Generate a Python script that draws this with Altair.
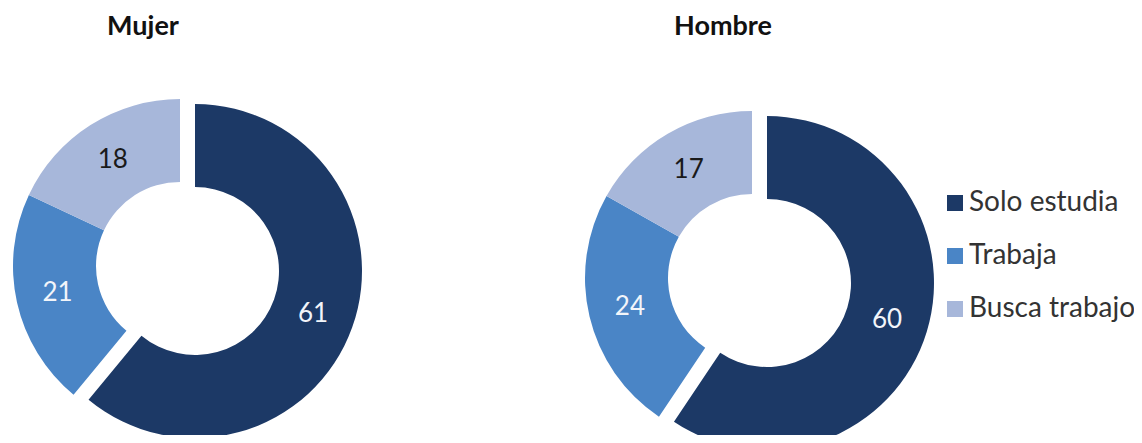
import math
import altair as alt
import pandas as pd

# ---- data ----
sexos = ["Mujer", "Hombre"]
categorias = ["Solo estudia", "Trabaja", "Busca trabajo"]
valores_mujer = [61, 21, 18]
valores_hombre = [60, 24, 17]

colores = ["#1c3966", "#4a85c6", "#a7b7da"]

rows = []
for s, vals in zip(sexos, [valores_mujer, valores_hombre]):
    for i, (c, v) in enumerate(zip(categorias, vals)):
        rows.append({"sexo": s, "categoria": c, "valor": v, "orden": i})
df = pd.DataFrame(rows)
df_titulos = pd.DataFrame({"sexo": sexos})

FONT = "Lato"
R_OUT, R_IN = 167, 84
EXPL_DX, EXPL_DY = 15, 5
TOP = 16  # top padding of the svg

theta_scale = alt.Scale(domain=[0, 1], range=[0, 2 * math.pi])
x_enc = alt.X("sexo:N", scale=alt.Scale(type="point", domain=sexos, range=[172, 744], padding=0), axis=None)
y_enc = alt.Y("sexo:N", scale=alt.Scale(type="point", domain=sexos, range=[258 - TOP, 270 - TOP], padding=0), axis=None)
color_enc = alt.Color(
    "categoria:N",
    scale=alt.Scale(domain=categorias, range=colores),
    legend=alt.Legend(
        title=None,
        orient="none",
        legendX=933,
        legendY=181 - TOP,
        symbolType="square",
        symbolSize=256,
        symbolStrokeWidth=0,
        labelFont=FONT,
        labelFontSize=28,
        labelColor="#333333",
        labelOffset=0,
        labelLimit=400,
        rowPadding=25,
        padding=0,
    ),
)

base = (
    alt.Chart(df)
    .transform_joinaggregate(total="sum(valor)", groupby=["sexo"])
    .transform_window(acum="sum(valor)", sort=[alt.SortField("orden")], groupby=["sexo"], frame=[None, 0])
    .transform_calculate(
        t1="datum.acum / datum.total",
        t0="(datum.acum - datum.valor) / datum.total",
        tm="(datum.acum - datum.valor / 2) / datum.total",
    )
)

arc_enc = dict(
    x=x_enc,
    y=y_enc,
    theta=alt.Theta("t0:Q", scale=theta_scale, stack=None),
    theta2=alt.Theta2("t1:Q"),
    color=color_enc,
)

arcs_resto = base.transform_filter("datum.categoria != 'Solo estudia'").mark_arc(
    outerRadius=R_OUT, innerRadius=R_IN
).encode(**arc_enc)

arc_expl = base.transform_filter("datum.categoria == 'Solo estudia'").mark_arc(
    outerRadius=R_OUT, innerRadius=R_IN, xOffset=EXPL_DX, yOffset=EXPL_DY
).encode(**arc_enc)

txt_enc = dict(
    x=x_enc,
    y=y_enc,
    theta=alt.Theta("tm:Q", scale=theta_scale, stack=None),
    text=alt.Text("valor:Q"),
    color=alt.condition("datum.categoria == 'Busca trabajo'", alt.value("#1a1a1a"), alt.value("#f2f5fa")),
)

labels_resto = base.transform_filter("datum.categoria != 'Solo estudia'").mark_text(
    radius=(R_OUT + R_IN) / 2, font=FONT, fontSize=26
).encode(**txt_enc)

labels_expl = base.transform_filter("datum.categoria == 'Solo estudia'").mark_text(
    radius=(R_OUT + R_IN) / 2, font=FONT, fontSize=26, dx=EXPL_DX, dy=EXPL_DY
).encode(**txt_enc)

titulos = alt.Chart(df_titulos).mark_text(
    font=FONT, fontSize=27, fontWeight="bold", baseline="alphabetic", color="#111111"
).encode(
    x=alt.X("sexo:N", scale=alt.Scale(type="point", domain=sexos, range=[135, 715], padding=0), axis=None),
    y=alt.value(27 - TOP),
    text="sexo:N",
)

chart = (
    alt.layer(arcs_resto, arc_expl, labels_resto, labels_expl, titulos)
    .resolve_scale(x="independent")
    .properties(
        width=1126,
        height=427 - TOP,
        autosize=alt.AutoSizeParams(type="none"),
        padding={"left": 0, "top": TOP, "right": 0, "bottom": 0},
    )
    .configure_view(stroke=None)
)

chart.save("out.html", embed_options={"renderer": "svg", "actions": False})
